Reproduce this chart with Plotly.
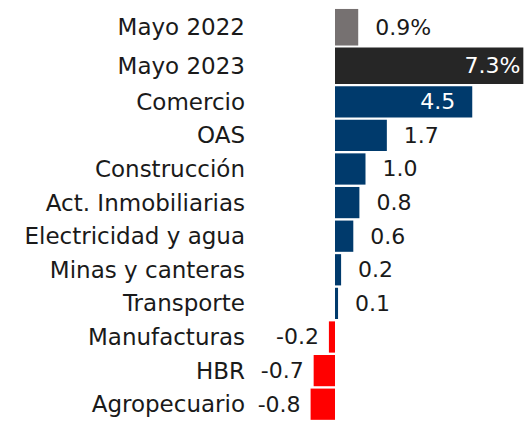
import plotly.graph_objects as go

# Top block: totals
total_labels = ["Mayo 2022", "Mayo 2023"]
total_values = [0.9, 7.3]
total_colors = ["#767171", "#262626"]

# Sector contributions
sectors = ["Comercio", "OAS", "Construcción", "Act. Inmobiliarias",
           "Electricidad y agua", "Minas y canteras", "Transporte",
           "Manufacturas", "HBR", "Agropecuario"]
sector_values = [4.5, 1.7, 1.0, 0.8, 0.6, 0.2, 0.1, -0.2, -0.7, -0.8]

BLUE = "#003A6C"
RED = "#FF0000"
FONT = "DejaVu Sans"
FS = 23
VFS = 22
TXT = "#1a1a1a"

def fmt_total(v, inside):
    return f"{v:.1f}%" if inside else f"  {v:.1f}%"

def fmt_sector(v, inside):
    s = f"{v:.1f}"
    if inside:
        return s + "  "
    return ("  " + s) if v >= 0 else (s + " ")

max_t = max(total_values)
t_inside = [v == max_t for v in total_values]
max_s = max(sector_values)
s_inside = [v == max_s for v in sector_values]

fig = go.Figure()

fig.add_trace(go.Bar(
    y=total_labels, x=total_values, orientation="h",
    marker=dict(color=total_colors, line=dict(width=0)),
    width=0.95,
    text=[fmt_total(v, i) for v, i in zip(total_values, t_inside)],
    textposition=["inside" if i else "outside" for i in t_inside],
    insidetextanchor="end",
    textfont=dict(family=FONT, size=VFS,
                  color=["white" if i else TXT for i in t_inside]),
    constraintext="none", cliponaxis=False,
    xaxis="x2", yaxis="y2", hoverinfo="skip",
))

fig.add_trace(go.Bar(
    y=sectors, x=sector_values, orientation="h",
    marker=dict(color=[BLUE if v >= 0 else RED for v in sector_values],
                line=dict(width=0)),
    width=0.93,
    text=[fmt_sector(v, i) for v, i in zip(sector_values, s_inside)],
    textposition=["inside" if i else "outside" for i in s_inside],
    insidetextanchor="end",
    textfont=dict(family=FONT, size=VFS,
                  color=["white" if i else TXT for i in s_inside]),
    constraintext="none", cliponaxis=False,
    xaxis="x", yaxis="y", hoverinfo="skip",
))

# plot area: page x 250..532, page y 8..421 (page has 8px body offset)
split = 0.8136

fig.update_layout(
    width=532, height=421,
    margin=dict(l=242, r=8, t=0, b=8),
    paper_bgcolor="white", plot_bgcolor="white",
    showlegend=False,
    font=dict(family=FONT, size=FS, color=TXT),
    xaxis=dict(range=[-2.787, 6.459], visible=False, domain=[0, 1]),
    yaxis=dict(domain=[0, split], autorange=False, range=[9.5, -0.5],
               type="category", showgrid=False, zeroline=False,
               tickfont=dict(family=FONT, size=FS, color=TXT),
               ticks="", showline=False, ticklabelstandoff=4),
    xaxis2=dict(range=[-3.295, 7.636], visible=False, anchor="y2",
                domain=[0, 1]),
    yaxis2=dict(domain=[split, 1], autorange=False, range=[1.5, -0.5],
                type="category", anchor="x2", showgrid=False, zeroline=False,
                tickfont=dict(family=FONT, size=FS, color=TXT),
                ticks="", showline=False, ticklabelstandoff=4),
)

fig.write_html("out.html")
